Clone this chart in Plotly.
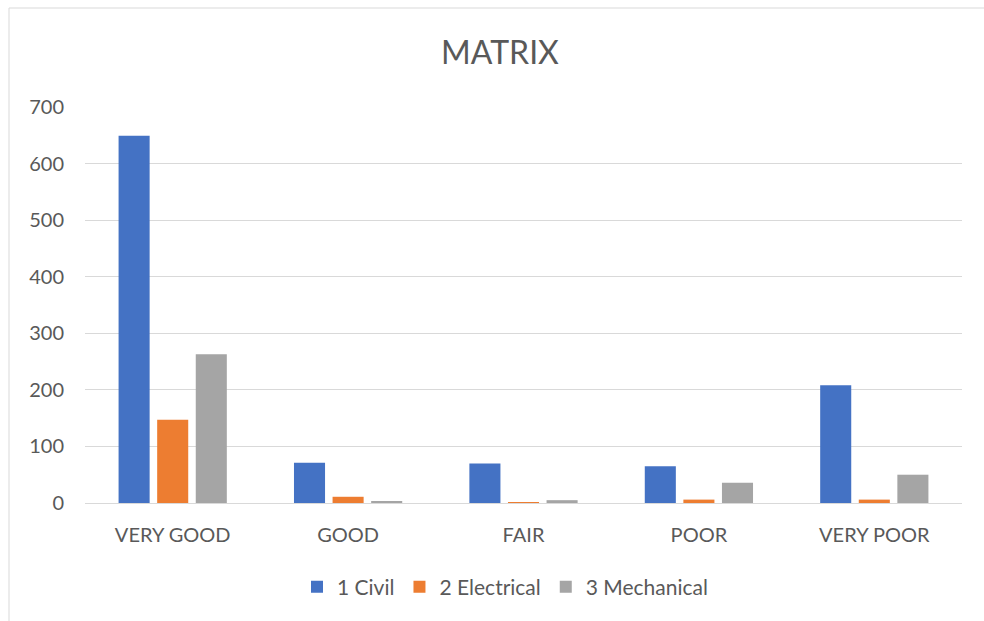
import plotly.graph_objects as go

categories = ["VERY GOOD", "GOOD", "FAIR", "POOR", "VERY POOR"]
civil = [649, 71, 70, 65, 208]
electrical = [147, 11, 1, 6, 6]
mechanical = [263, 3, 5, 36, 50]
series_names = ["1 Civil", "2 Electrical", "3 Mechanical"]
colors = ["#4472C4", "#ED7D31", "#A5A5A5"]
y_ticks = [0, 100, 200, 300, 400, 500, 600, 700]

FONT = "Lato, Open Sans, sans-serif"
TXT = "#595959"

fig = go.Figure()
for name, vals, c in zip(series_names, [civil, electrical, mechanical], colors):
    fig.add_trace(go.Bar(x=categories, y=vals, name=name, marker_color=c,
                         marker_line_width=0))

L, R, T, B = 85, 22, 107, 118
W, H = 984, 621
pw, ph = W - L - R, H - T - B

fig.update_layout(
    width=W, height=H,
    margin=dict(l=L, r=R, t=T, b=B),
    paper_bgcolor="white", plot_bgcolor="white",
    font=dict(family=FONT, size=20, color=TXT),
    barmode="group", bargap=0.34, bargroupgap=0.195,
    title=dict(text="MATRIX", x=500 / W, xanchor="center", xref="container",
               y=1 - 53 / H, yanchor="middle", yref="container",
               font=dict(size=32, color=TXT, family=FONT)),
    legend=dict(orientation="h", x=505 / W, xanchor="center", xref="container",
                y=1 - 587 / H, yanchor="middle", yref="container",
                font=dict(size=21, color=TXT), traceorder="normal"),
    xaxis=dict(showgrid=False, showline=True, linecolor="#d9d9d9", linewidth=1,
               ticks="", tickfont=dict(size=20, color=TXT), ticklabelstandoff=14),
    yaxis=dict(range=[0, 700], tickvals=y_ticks, showgrid=True, gridcolor="#d9d9d9",
               gridwidth=1, zeroline=False, showline=False, ticks="",
               tickfont=dict(size=20, color=TXT), ticklabelstandoff=20),
    shapes=[dict(type="rect", xref="paper", yref="paper",
                 x0=(9 - L) / pw, x1=(W + 20 - L) / pw,
                 y0=(H - B - (H + 20)) / ph, y1=(H - B - 8) / ph,
                 line=dict(color="#d9d9d9", width=1), fillcolor="rgba(0,0,0,0)",
                 layer="below")],
)

fig.write_html("out.html")
